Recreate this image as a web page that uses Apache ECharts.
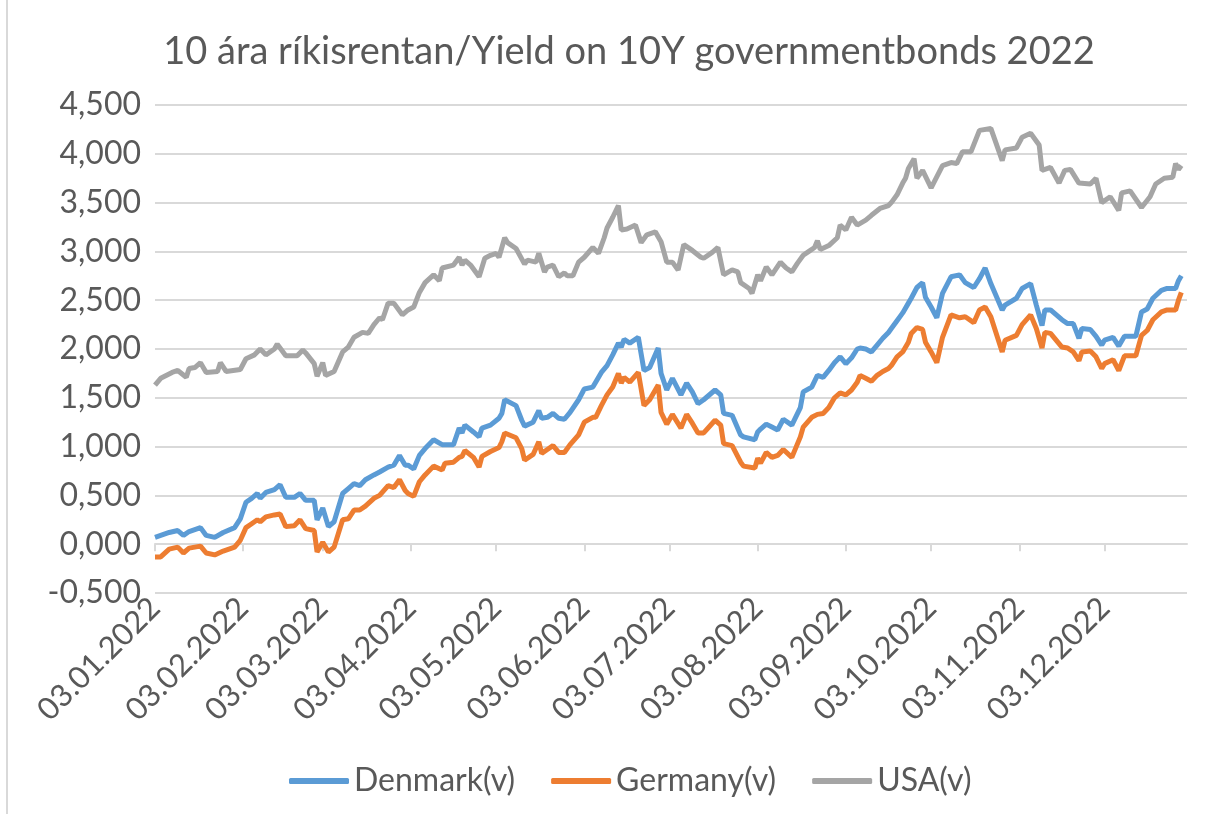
<!DOCTYPE html>
<html lang="en">
<head>
    <meta charset="UTF-8">
    <title>10 ára ríkisrentan</title>
    <style>html, body { margin: 0; padding: 0; background: #fff; }</style>
</head>
<body>
<div class="main" style="width: 1228px;height: 814px"></div>
<script src="https://cdn.jsdelivr.net/npm/echarts@6/dist/echarts.min.js"></script>
<script>
    // days counted from 03.01.2022
    var euDays = [0, 2, 5, 8, 10, 12, 16, 18, 21, 24,
        28, 30, 32, 34, 36, 37, 39, 42, 44, 46,
        49, 51, 53, 56, 57, 59, 61, 63, 66, 68,
        70, 72, 74, 77, 79, 82, 84, 86, 88, 89,
        91, 93, 95, 98, 101, 102, 105, 107, 108, 109,
        112, 114, 115, 118, 121, 122, 123, 127, 129, 130,
        133, 135, 136, 138, 140, 142, 144, 146, 149, 151,
        154, 155, 157, 159, 161, 163, 164, 165, 167, 170,
        172, 174, 177, 178, 180, 182, 185, 187, 189, 191,
        193, 197, 199, 200, 203, 206, 207, 211, 212, 213,
        215, 217, 219, 221, 224, 227, 228, 231, 233, 235,
        237, 239, 241, 243, 245, 247, 248, 250, 252, 254,
        256, 258, 259, 261, 263, 265, 266, 268, 270, 271,
        273, 275, 277, 280, 283, 285, 288, 290, 292, 294,
        298, 299, 303, 305, 308, 310, 312, 313, 315, 319,
        321, 323, 325, 326, 329, 331, 333, 334, 337, 339,
        341, 345, 347, 349, 351, 354, 356, 359, 360, 361];

    var denmarkYield = [0.07, 0.09, 0.12, 0.14, 0.09, 0.13, 0.17, 0.09, 0.07, 0.12,
        0.17, 0.26, 0.43, 0.47, 0.52, 0.47, 0.53, 0.56, 0.61, 0.48,
        0.48, 0.52, 0.45, 0.45, 0.25, 0.37, 0.18, 0.23, 0.52, 0.57,
        0.62, 0.60, 0.66, 0.71, 0.74, 0.79, 0.81, 0.91, 0.81, 0.81,
        0.77, 0.91, 0.98, 1.07, 1.02, 1.02, 1.02, 1.19, 1.14, 1.22,
        1.15, 1.10, 1.19, 1.22, 1.29, 1.34, 1.48, 1.42, 1.27, 1.21,
        1.25, 1.37, 1.29, 1.30, 1.34, 1.29, 1.28, 1.35, 1.48, 1.59,
        1.61, 1.66, 1.76, 1.83, 1.94, 2.06, 2.02, 2.10, 2.06, 2.12,
        1.78, 1.81, 2.01, 1.75, 1.58, 1.70, 1.53, 1.65, 1.56, 1.44,
        1.48, 1.58, 1.53, 1.34, 1.32, 1.12, 1.10, 1.07, 1.15, 1.18,
        1.23, 1.20, 1.17, 1.28, 1.22, 1.40, 1.56, 1.61, 1.73, 1.71,
        1.78, 1.86, 1.92, 1.85, 1.91, 2.00, 2.01, 2.00, 1.97, 2.04,
        2.11, 2.17, 2.21, 2.29, 2.37, 2.47, 2.52, 2.63, 2.68, 2.53,
        2.43, 2.32, 2.57, 2.74, 2.76, 2.68, 2.63, 2.72, 2.83, 2.67,
        2.40, 2.45, 2.52, 2.62, 2.67, 2.45, 2.24, 2.40, 2.40, 2.30,
        2.26, 2.26, 2.11, 2.21, 2.20, 2.13, 2.04, 2.09, 2.12, 2.03,
        2.13, 2.13, 2.38, 2.41, 2.52, 2.60, 2.62, 2.62, 2.70, 2.75];

    var germanyYield = [-0.13, -0.13, -0.05, -0.03, -0.09, -0.04, -0.02, -0.09, -0.11, -0.07,
        -0.03, 0.04, 0.17, 0.21, 0.25, 0.23, 0.28, 0.30, 0.31, 0.18,
        0.19, 0.25, 0.16, 0.14, -0.08, 0.02, -0.08, -0.03, 0.25, 0.26,
        0.35, 0.35, 0.39, 0.47, 0.50, 0.60, 0.58, 0.66, 0.55, 0.52,
        0.49, 0.64, 0.71, 0.80, 0.76, 0.83, 0.84, 0.89, 0.90, 0.96,
        0.89, 0.79, 0.90, 0.95, 0.99, 1.05, 1.14, 1.09, 0.98, 0.86,
        0.92, 1.05, 0.93, 0.97, 1.01, 0.94, 0.94, 1.02, 1.12, 1.25,
        1.30, 1.30, 1.42, 1.53, 1.61, 1.75, 1.65, 1.71, 1.66, 1.76,
        1.42, 1.48, 1.63, 1.35, 1.23, 1.33, 1.19, 1.33, 1.24, 1.14,
        1.14, 1.27, 1.22, 1.03, 1.01, 0.84, 0.80, 0.78, 0.88, 0.83,
        0.94, 0.89, 0.91, 0.97, 0.89, 1.10, 1.20, 1.30, 1.33, 1.34,
        1.40, 1.50, 1.55, 1.53, 1.58, 1.66, 1.73, 1.70, 1.67, 1.73,
        1.77, 1.80, 1.83, 1.92, 1.97, 2.07, 2.16, 2.22, 2.20, 2.07,
        1.97, 1.86, 2.12, 2.35, 2.32, 2.33, 2.27, 2.40, 2.43, 2.33,
        1.97, 2.09, 2.14, 2.25, 2.35, 2.21, 2.01, 2.17, 2.16, 2.02,
        2.01, 1.97, 1.88, 1.97, 1.98, 1.92, 1.80, 1.85, 1.89, 1.78,
        1.93, 1.93, 2.14, 2.19, 2.30, 2.38, 2.40, 2.40, 2.50, 2.58];

    var usaDays = [0, 2, 6, 8, 11, 12, 14, 16, 18, 22,
        23, 25, 30, 32, 35, 37, 39, 42, 43, 46,
        50, 52, 53, 56, 57, 59, 60, 63, 66, 68,
        70, 73, 75, 77, 79, 80, 82, 84, 87, 89,
        91, 93, 95, 98, 100, 101, 105, 107, 108, 109,
        111, 114, 116, 118, 120, 121, 123, 124, 127, 130,
        131, 134, 135, 137, 138, 140, 142, 144, 145, 147,
        149, 151, 154, 156, 158, 159, 161, 163, 164, 166,
        169, 171, 173, 176, 178, 180, 182, 184, 186, 189,
        192, 193, 196, 198, 200, 203, 205, 206, 209, 210,
        212, 213, 215, 217, 220, 222, 224, 226, 228, 230,
        232, 233, 234, 237, 240, 241, 243, 245, 247, 250,
        252, 255, 258, 259, 261, 263, 264, 265, 267, 268,
        270, 273, 277, 280, 282, 284, 287, 290, 294, 298,
        299, 303, 305, 308, 311, 312, 315, 318, 320, 322,
        325, 329, 331, 333, 336, 339, 340, 343, 347, 350,
        352, 355, 358, 359, 360, 361];

    var usaYield = [1.63, 1.70, 1.76, 1.78, 1.71, 1.80, 1.81, 1.86, 1.76, 1.77,
        1.86, 1.77, 1.79, 1.90, 1.94, 2.00, 1.94, 2.00, 2.05, 1.93,
        1.93, 1.99, 1.96, 1.85, 1.72, 1.86, 1.73, 1.77, 1.97, 2.02,
        2.12, 2.17, 2.16, 2.25, 2.32, 2.30, 2.47, 2.47, 2.35, 2.40,
        2.43, 2.58, 2.68, 2.76, 2.70, 2.83, 2.86, 2.94, 2.86, 2.91,
        2.86, 2.74, 2.93, 2.96, 2.98, 2.94, 3.14, 3.09, 3.03, 2.87,
        2.91, 2.89, 2.98, 2.79, 2.84, 2.86, 2.74, 2.78, 2.75, 2.75,
        2.89, 2.94, 3.04, 2.98, 3.14, 3.24, 3.35, 3.47, 3.22, 3.23,
        3.27, 3.09, 3.17, 3.20, 3.10, 2.89, 2.89, 2.81, 3.07, 3.01,
        2.94, 2.93, 2.99, 3.04, 2.76, 2.81, 2.79, 2.68, 2.62, 2.57,
        2.76, 2.70, 2.84, 2.76, 2.89, 2.83, 2.79, 2.88, 2.96, 3.00,
        3.04, 3.11, 3.02, 3.06, 3.14, 3.27, 3.22, 3.35, 3.27, 3.32,
        3.37, 3.44, 3.47, 3.50, 3.58, 3.70, 3.75, 3.85, 3.95, 3.75,
        3.83, 3.65, 3.88, 3.91, 3.90, 4.02, 4.02, 4.24, 4.26, 3.93,
        4.04, 4.06, 4.17, 4.21, 4.09, 3.83, 3.86, 3.70, 3.83, 3.84,
        3.70, 3.69, 3.75, 3.50, 3.56, 3.42, 3.60, 3.62, 3.45, 3.56,
        3.69, 3.75, 3.76, 3.90, 3.84, 3.88];

    var seriesNames = ["Denmark(v)", "Germany(v)", "USA(v)"];
    var seriesColors = ["#5b9bd5", "#ed7d31", "#a5a5a5"];
    // axis label on the 3rd of every month
    var tickMonths = [0, 1, 2, 3, 4, 5, 6, 7, 8, 9, 10, 11];

    function dayToTime(d) {
        return new Date(2022, 0, 3 + d).getTime();
    }
    function pairs(days, vals) {
        return days.map(function (d, i) { return [dayToTime(d), vals[i]]; });
    }
    function pad(n) { return n < 10 ? "0" + n : "" + n; }

    var tickValues = tickMonths.map(function (m) { return new Date(2022, m, 3).getTime(); });
    var xMin = dayToTime(0);
    var xMax = new Date(2023, 0, 1).getTime();

    var main = document.querySelector(".main");
    var mainEcharts = echarts.init(main);
    var font = "Lato, 'Open Sans', sans-serif";
    var txt = "#595959";

    var option = {
        animation: false,
        color: seriesColors,
        title: {
            text: "10 ára ríkisrentan/Yield on 10Y governmentbonds 2022",
            left: 624,
            textAlign: "center",
            top: 28,
            textStyle: {fontFamily: font, fontSize: 38, fontWeight: "normal", color: txt}
        },
        legend: {
            bottom: 12,
            left: 284,
            itemWidth: 60,
            itemHeight: 6,
            itemGap: 36,
            icon: "roundRect",
            textStyle: {fontFamily: font, fontSize: 32, color: txt},
            data: seriesNames
        },
        grid: {left: 155, right: 41, top: 105, bottom: 221},
        graphic: [{
            type: "line",
            shape: {x1: 7, y1: 0, x2: 7, y2: 814},
            style: {stroke: "#d9d9d9", lineWidth: 2}
        }],
        xAxis: [{
            type: "value",
            min: xMin,
            max: xMax,
            axisLine: {onZero: true, lineStyle: {color: "#d9d9d9", width: 2}},
            axisTick: {show: true, customValues: tickValues, length: 7, lineStyle: {color: "#d9d9d9", width: 2}},
            axisLabel: {show: false},
            splitLine: {show: false}
        }, {
            type: "value",
            min: xMin,
            max: xMax,
            position: "bottom",
            axisLine: {show: false, onZero: false},
            axisTick: {show: false},
            splitLine: {show: false},
            axisLabel: {
                customValues: tickValues,
                rotate: 45,
                margin: 10,
                fontFamily: font,
                fontSize: 31,
                color: txt,
                formatter: function (v) {
                    var d = new Date(v);
                    return pad(d.getDate()) + "." + pad(d.getMonth() + 1) + "." + d.getFullYear();
                }
            }
        }],
        yAxis: {
            type: "value",
            min: -0.5,
            max: 4.5,
            interval: 0.5,
            axisLine: {show: false},
            axisTick: {show: false},
            splitLine: {lineStyle: {color: "#d9d9d9", width: 2}},
            axisLabel: {
                fontFamily: font,
                fontSize: 32,
                color: txt,
                margin: 14,
                formatter: function (v) { return v.toFixed(3).replace(".", ","); }
            }
        },
        series: [{
            name: seriesNames[0],
            type: "line",
            xAxisIndex: 0,
            showSymbol: false,
            lineStyle: {width: 5},
            data: pairs(euDays, denmarkYield)
        }, {
            name: seriesNames[1],
            type: "line",
            xAxisIndex: 0,
            showSymbol: false,
            lineStyle: {width: 5},
            data: pairs(euDays, germanyYield)
        }, {
            name: seriesNames[2],
            type: "line",
            xAxisIndex: 0,
            showSymbol: false,
            lineStyle: {width: 5},
            data: pairs(usaDays, usaYield)
        }]
    };

    mainEcharts.setOption(option);
</script>
</body>
</html>
